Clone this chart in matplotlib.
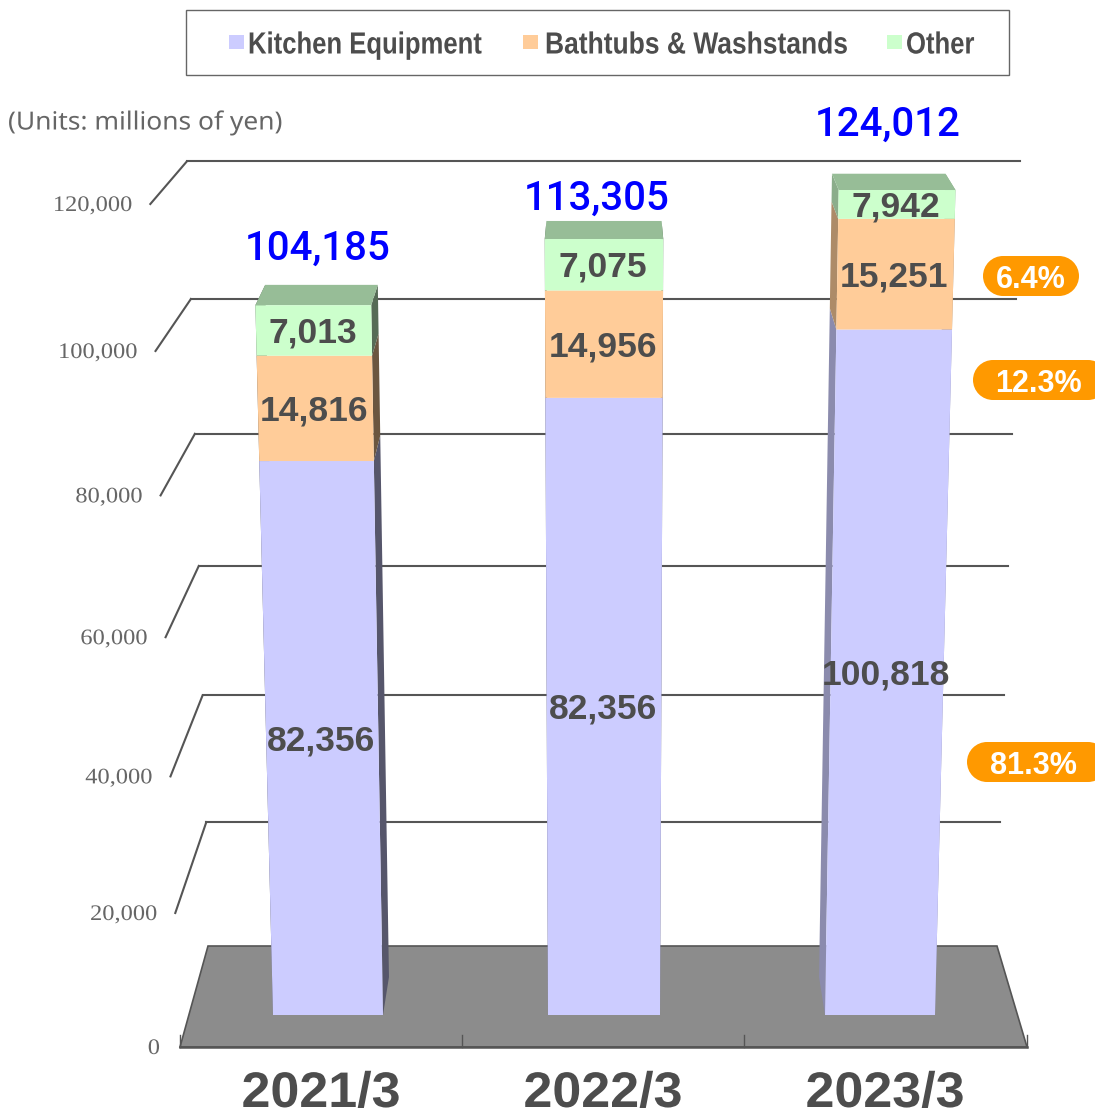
import numpy as np
import matplotlib
matplotlib.use('Agg')
import matplotlib.pyplot as plt
from matplotlib.patches import Rectangle
from matplotlib.patheffects import AbstractPathEffect
from matplotlib.transforms import Affine2D

# chart data
categories = ['2021/3', '2022/3', '2023/3']
kitchen = [82356, 91274, 100818]
bathtubs = [14816, 14956, 15251]
other = [7013, 7075, 7942]
kitchen_labels = ['82,356', '82,356', '100,818']
bathtub_labels = ['14,816', '14,956', '15,251']
other_labels = ['7,013', '7,075', '7,942']
total_labels = ['104,185', '113,305', '124,012']
series_names = ['Kitchen Equipment', 'Bathtubs & Washstands', 'Other']
share_labels = ['6.4%', '12.3%', '81.3%']
y_ticks = [0, 20000, 40000, 60000, 80000, 100000, 120000]
y_max = 120000

FRONT_COL = ['#ccccff', '#ffcc99', '#ccffcc']
TOP_COL = '#97bd97'
TEXT_COL = '#4d4d4d'

# perspective planes: base pixel row, quadratic value->height, x shrink, x spread
BAR_FRONT = dict(base=1015, a=6.402, b=0.00394, xs=1.0, k=7.5e-5)
BAR_BACK = dict(base=977, a=6.31, b=0.0032, xs=0.973, k=7.5e-5)
WALL = dict(base=946, a=6.13, b=0.0034, xs=1.0, k=7.5e-5)
FLOOR_FRONT = dict(base=1047, a=6.635, b=0.00325, xs=1.0, k=8.3e-5)
CX = 604


class StretchX(AbstractPathEffect):
    # the original uses a condensed gothic, so scale the glyphs sideways around x0
    def __init__(self, fx, x0):
        super().__init__()
        self.fx = fx
        self.x0 = x0

    def draw_path(self, renderer, gc, tpath, affine, rgbFace=None):
        squeeze = Affine2D().translate(-self.x0, 0).scale(self.fx, 1).translate(self.x0, 0)
        renderer.draw_path(gc, tpath, affine + squeeze, rgbFace)


def row(v, plane):
    vk = np.minimum(v, y_max) / 1000.
    return plane['base'] - vk * (plane['a'] + plane['b'] * vk)


def project(x, v, plane):
    y = row(v, plane)
    s = plane['xs'] * (1 + plane['k'] * (plane['base'] - y))
    return CX + (x - CX) * s, y


fig = plt.figure(figsize=(10.95, 11.18), dpi=100)
ax = fig.add_axes([0, 0, 1, 1])
ax.set_xlim(0, 1095)
ax.set_ylim(1118, 0)
ax.axis('off')

#----------------------------------------------------------------------
# walls and floor
#----------------------------------------------------------------------
ax.fill([208, 997, 1027, 180], [946, 946, 1047, 1047], fc='#8c8c8c', ec='#555555', lw=1.2, zorder=1)
ax.plot([180, 1027], [1047, 1047], color='#555555', lw=1.8, zorder=2)
for xt in [180, 462, 744, 1027]:
    ax.plot([xt, xt], [1035, 1047], color='#555555', lw=1, zorder=2)

for tick in y_ticks:
    xl, yb = project(210, tick, WALL)
    xr, _ = project(996.5, tick, WALL)
    xf, yf = project(180, tick, FLOOR_FRONT)
    if tick > 0:
        ax.plot([xl, xr], [yb, yb], color='#555555', lw=1.5, zorder=2)
        ax.plot([xl, xf], [yb, yf], color='#555555', lw=1.5, zorder=2)
    xlab = xf - 18 if tick > 0 else xf - 20
    ax.text(xlab, yf, f'{tick:,}', ha='right', va='center_baseline', fontsize=16,
            family='Liberation Serif', color='#666666',
            path_effects=[StretchX(1.1, xlab)])

#----------------------------------------------------------------------
# bars
#----------------------------------------------------------------------
bar_left = [273, 548, 825]
bar_right = [383, 660, 935]
side_shade = [0.42, 0.42, 0.68]
total_pos = [(318, 245), (597, 195), (888, 121)]


def shade(col, f):
    rgb = np.array(matplotlib.colors.to_rgb(col))
    return tuple(rgb * f)


for i in range(3):
    lo = np.array([0, kitchen[i], kitchen[i] + bathtubs[i]])
    hi = lo + np.array([kitchen[i], bathtubs[i], other[i]])
    labels = [kitchen_labels[i], bathtub_labels[i], other_labels[i]]
    xa, xb = bar_left[i], bar_right[i]
    # side faces
    for j in range(3):
        col = shade(FRONT_COL[j], side_shade[i])
        for xe in (xa, xb):
            x1, y1 = project(xe, lo[j], BAR_FRONT)
            x2, y2 = project(xe, hi[j], BAR_FRONT)
            x3, y3 = project(xe, hi[j], BAR_BACK)
            x4, y4 = project(xe, lo[j], BAR_BACK)
            ax.fill([x1, x2, x3, x4], [y1, y2, y3, y4], fc=col, lw=0, zorder=3)
    # top face
    xtop = [project(xa, hi[2], BAR_FRONT)[0], project(xb, hi[2], BAR_FRONT)[0],
            project(xb, hi[2], BAR_BACK)[0], project(xa, hi[2], BAR_BACK)[0]]
    ytop = [row(hi[2], BAR_FRONT), row(hi[2], BAR_FRONT), row(hi[2], BAR_BACK), row(hi[2], BAR_BACK)]
    ax.fill(xtop, ytop, fc=TOP_COL, lw=0, zorder=4)
    # front faces and the value labels
    for j in range(3):
        x1, y1 = project(xa, lo[j], BAR_FRONT)
        x2, y2 = project(xa, hi[j], BAR_FRONT)
        x3, _ = project(xb, hi[j], BAR_FRONT)
        x4, _ = project(xb, lo[j], BAR_FRONT)
        ax.fill([x1, x2, x3, x4], [y1, y2, y2, y1], fc=FRONT_COL[j], lw=0, zorder=5)
        ax.text((x1 + x2 + x3 + x4) / 4 - 1, (y1 + y2) / 2 - 1, labels[j], ha='center', va='center_baseline',
                fontsize=25.5, weight='bold', family='Liberation Sans', color=TEXT_COL, zorder=6)
    ax.text(total_pos[i][0], total_pos[i][1], total_labels[i], ha='center', va='center_baseline',
            fontsize=29, family='Roboto', weight='medium', color='#0000ff', zorder=6)
    xcat = 321 + 282 * i
    ax.text(xcat, 1107, categories[i], ha='center', va='baseline', fontsize=36,
            weight='bold', family='Liberation Sans', color=TEXT_COL,
            path_effects=[StretchX(1.04, xcat)])

#----------------------------------------------------------------------
# legend box
#----------------------------------------------------------------------
ax.add_patch(Rectangle((186, 9.5), 822.5, 65, fc='white', ec='#666666', lw=1, zorder=7))
legend_x = [229, 523, 887]
legend_tx = [248, 545, 906]
legend_fx = [0.84, 0.865, 0.84]
for name, col, xl, tx, fx in zip(series_names, FRONT_COL, legend_x, legend_tx, legend_fx):
    ax.add_patch(Rectangle((xl, 35), 15, 14, fc=col, lw=0, zorder=8))
    ax.text(tx, 42, name, ha='left', va='center_baseline', fontsize=22, weight='bold',
            family='Liberation Sans', color=TEXT_COL, zorder=8,
            path_effects=[StretchX(fx, tx)])

ax.text(8, 120, '(Units: millions of yen)', ha='left', va='center_baseline', fontsize=18,
        family='Noto Sans', color='#666666', path_effects=[StretchX(1.055, 8)])

#----------------------------------------------------------------------
# share badges
#----------------------------------------------------------------------
badge_x = [(983, 1079), (973, 1108), (967, 1108)]
badge_y = [276, 380, 762]
badge_tx = [1031, 1038, 1033]
for lab, (x0, x1), yc, tx in zip(share_labels, badge_x, badge_y, badge_tx):
    ax.add_patch(Rectangle((x0 + 20, yc - 20), x1 - x0 - 40, 40, fc='#ff9900', lw=0, zorder=9))
    ax.add_patch(plt.Circle((x0 + 20, yc), 20, fc='#ff9900', lw=0, zorder=9))
    ax.add_patch(plt.Circle((x1 - 20, yc), 20, fc='#ff9900', lw=0, zorder=9))
    ax.text(tx, yc + 1, lab, ha='center', va='center_baseline', fontsize=22, weight='bold',
            family='Liberation Sans', color='white', zorder=10)

fig.savefig('out.png', dpi=100)
